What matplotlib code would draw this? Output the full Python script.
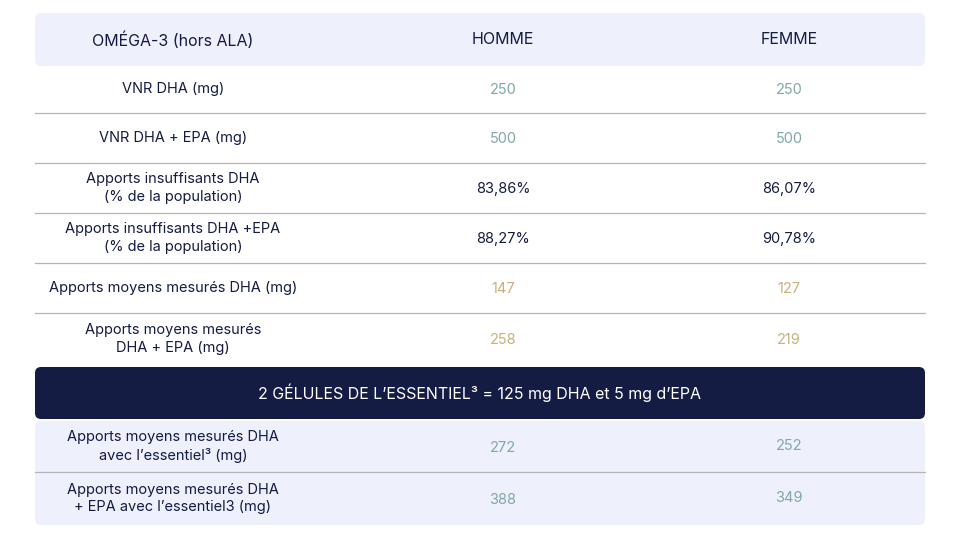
import matplotlib.pyplot as plt
from matplotlib.patches import FancyBboxPatch, Rectangle

plt.rcParams['font.family'] = ['Inter', 'DejaVu Sans']

header = ["OMÉGA-3 (hors ALA)", "HOMME", "FEMME"]
row_labels = ["VNR DHA (mg)", "VNR DHA + EPA (mg)",
              "Apports insuffisants DHA\n(% de la population)",
              "Apports insuffisants DHA +EPA\n(% de la population)",
              "Apports moyens mesurés DHA (mg)",
              "Apports moyens mesurés\nDHA + EPA (mg)"]
homme = ["250", "500", "83,86%", "88,27%", "147", "258"]
femme = ["250", "500", "86,07%", "90,78%", "127", "219"]
band_text = "2 GÉLULES DE L’ESSENTIEL³ = 125 mg DHA et 5 mg d’EPA"
extra_labels = ["Apports moyens mesurés DHA\navec l’essentiel³ (mg)",
                "Apports moyens mesurés DHA\n+ EPA avec l’essentiel3 (mg)"]
extra_homme = ["272", "388"]
extra_femme = ["252", "349"]

navy = "#141c44"
teal = "#7fa8a6"
tan = "#c8b07a"
lav = "#eef0fb"
value_colors = [teal, teal, navy, navy, tan, tan]

fig = plt.figure(figsize=(9.6, 5.4), dpi=100)
ax = fig.add_axes([0, 0, 1, 1])
ax.set_xlim(0, 960)
ax.set_ylim(540, 0)
ax.axis('off')

cols = [173, 503, 789]
x0, x1 = 35, 925

ax.add_patch(FancyBboxPatch((x0, 13), x1 - x0, 53, boxstyle="round,pad=0,rounding_size=6",
                            fc=lav, ec='none'))
for c, t in zip(cols, header):
    ax.text(c, 40, t, ha='center', va='center', fontsize=11.5, color=navy)

edges = [66, 113, 163, 213, 263, 313, 365]
for i, lab in enumerate(row_labels):
    yc = (edges[i] + edges[i + 1]) / 2
    ax.text(cols[0], yc, lab, ha='center', va='center', fontsize=10.5, color=navy, linespacing=1.35)
    ax.text(cols[1], yc + 1, homme[i], ha='center', va='center', fontsize=10.5, color=value_colors[i])
    ax.text(cols[2], yc + 1, femme[i], ha='center', va='center', fontsize=10.5, color=value_colors[i])
    if i > 0:
        ax.plot([x0, x1], [edges[i], edges[i]], color='#b5b5b5', lw=0.9)

ax.add_patch(FancyBboxPatch((x0, 367), x1 - x0, 52, boxstyle="round,pad=0,rounding_size=6",
                            fc=navy, ec='none'))
ax.text(480, 393, band_text, ha='center', va='center', fontsize=11.5, color='white')

ax.add_patch(FancyBboxPatch((x0, 421), x1 - x0, 104, boxstyle="round,pad=0,rounding_size=6",
                            fc=lav, ec='none'))
ax.plot([x0, x1], [472, 472], color='#b5b5b5', lw=0.9)
ed2 = [421, 472, 525]
for i, lab in enumerate(extra_labels):
    yc = (ed2[i] + ed2[i + 1]) / 2
    ax.text(cols[0], yc, lab, ha='center', va='center', fontsize=10.5, color=navy, linespacing=1.35)
    ax.text(cols[1], yc + 1, extra_homme[i], ha='center', va='center', fontsize=10.5, color=teal)
    ax.text(cols[2], yc, extra_femme[i], ha='center', va='center', fontsize=10.5, color=teal)

fig.savefig("out.png", dpi=100, facecolor='white')
